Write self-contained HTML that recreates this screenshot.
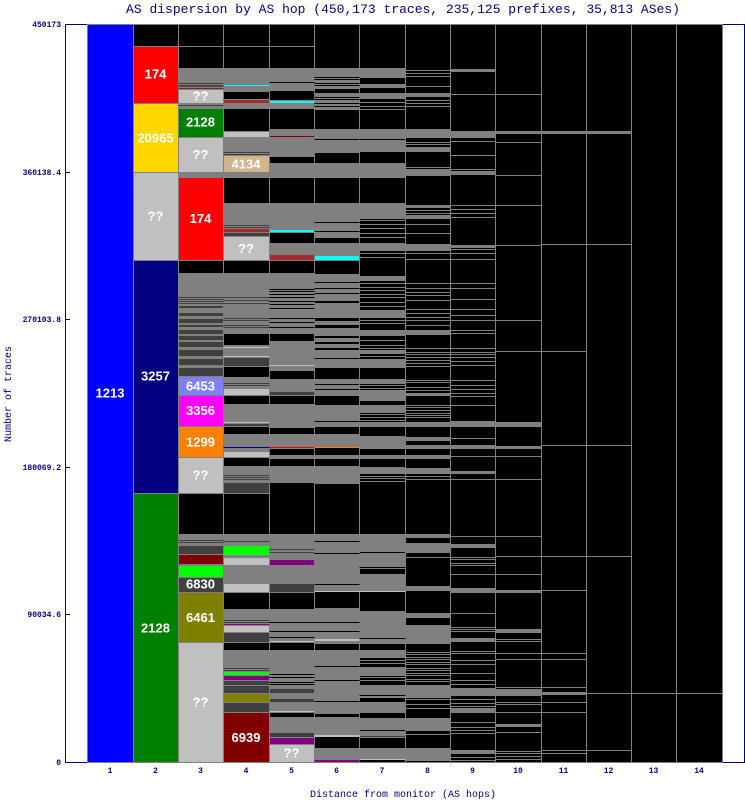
<!DOCTYPE html>
<html><head><meta charset="utf-8"><style>
html,body{margin:0;padding:0;background:#fff}
svg{display:block}
.s rect{stroke:#808080;stroke-width:1}
.t{font-family:"Liberation Sans",sans-serif;font-weight:bold;font-size:13px;fill:#fff;text-anchor:middle}
.a{font-family:"Liberation Mono",monospace;font-size:8px;font-weight:bold;fill:#000080}
</style></head><body>
<svg width="745" height="800" viewBox="0 0 745 800" xmlns="http://www.w3.org/2000/svg" shape-rendering="crispEdges">
<rect width="745" height="800" fill="#fff"/>
<text x="403" y="13" font-family="Liberation Mono, monospace" font-size="13" fill="#000080" text-anchor="middle">AS dispersion by AS hop (450,173 traces, 235,125 prefixes, 35,813 ASes)</text>
<path d="M65.5 24.5V762.5H744.5V24.5H65.5" fill="none" stroke="#000080"/>
<path d="M65 24.5h5M65 172.5h5M65 319.5h5M65 467.5h5M65 614.5h5M65 762.5h5" stroke="#000080"/>
<g class="a" text-anchor="end">
<text x="61" y="27">450173</text><text x="61" y="175">360138.4</text><text x="61" y="322">270103.8</text><text x="61" y="470">180069.2</text><text x="61" y="617">90034.6</text><text x="61" y="765">0</text>
</g>
<g class="a" text-anchor="middle">
<text x="110" y="773">1</text><text x="155.5" y="773">2</text><text x="200.5" y="773">3</text><text x="246" y="773">4</text><text x="291.5" y="773">5</text><text x="336.5" y="773">6</text><text x="382" y="773">7</text><text x="427.5" y="773">8</text><text x="472.5" y="773">9</text><text x="518" y="773">10</text><text x="563.5" y="773">11</text><text x="608.5" y="773">12</text><text x="653.5" y="773">13</text><text x="699" y="773">14</text>
</g>
<text x="403" y="797" font-family="Liberation Mono, monospace" font-size="10" fill="#000080" text-anchor="middle">Distance from monitor (AS hops)</text>
<text transform="translate(11,394) rotate(-90)" font-family="Liberation Mono, monospace" font-size="10" fill="#000080" text-anchor="middle">Number of traces</text>

<g transform="translate(0.5,0.5)">
<g class="s">
<rect x="87" y="24" width="46" height="738" fill="#0000ff"/>
<rect x="133" y="24" width="45" height="22" fill="#000"/>
<rect x="133" y="46" width="45" height="57" fill="#ff0000"/>
<rect x="133" y="103" width="45" height="69" fill="#ffd700"/>
<rect x="133" y="172" width="45" height="88" fill="#c0c0c0"/>
<rect x="133" y="260" width="45" height="233" fill="#000080"/>
<rect x="133" y="493" width="45" height="269" fill="#008000"/>
<rect x="178" y="24" width="45" height="22" fill="#000"/>
<rect x="178" y="46" width="45" height="22" fill="#000"/>
<rect x="178" y="68" width="45" height="21" fill="#808080"/>
<rect x="178" y="89" width="45" height="14" fill="#c0c0c0"/>
<rect x="178" y="103" width="45" height="5" fill="#808080"/>
<rect x="178" y="108" width="45" height="29" fill="#008000"/>
<rect x="178" y="137" width="45" height="35" fill="#c0c0c0"/>
<rect x="178" y="172" width="45" height="5" fill="#808080"/>
<rect x="178" y="177" width="45" height="83" fill="#ff0000"/>
<rect x="178" y="260" width="45" height="13" fill="#000"/>
<rect x="178" y="273" width="45" height="103" fill="#808080"/>
<rect x="178" y="305" width="45" height="3" fill="#404040"/>
<rect x="178" y="312" width="45" height="4" fill="#404040"/>
<rect x="178" y="318" width="45" height="5" fill="#404040"/>
<rect x="178" y="324" width="45" height="3" fill="#404040"/>
<rect x="178" y="329" width="45" height="5" fill="#404040"/>
<rect x="178" y="335" width="45" height="5" fill="#404040"/>
<rect x="178" y="341" width="45" height="6" fill="#404040"/>
<rect x="178" y="349" width="45" height="7" fill="#404040"/>
<rect x="178" y="358" width="45" height="7" fill="#404040"/>
<rect x="178" y="367" width="45" height="9" fill="#404040"/>
<rect x="178" y="376" width="45" height="19" fill="#8080ff"/>
<rect x="178" y="395" width="45" height="31" fill="#ff00ff"/>
<rect x="178" y="426" width="45" height="31" fill="#ff8000"/>
<rect x="178" y="457" width="45" height="36" fill="#c0c0c0"/>
<rect x="178" y="493" width="45" height="41" fill="#000"/>
<rect x="178" y="534" width="45" height="11" fill="#808080"/>
<rect x="178" y="545" width="45" height="9" fill="#404040"/>
<rect x="178" y="554" width="45" height="10" fill="#800000"/>
<rect x="178" y="565" width="45" height="12" fill="#00ff00"/>
<rect x="178" y="577" width="45" height="15" fill="#404040"/>
<rect x="178" y="592" width="45" height="50" fill="#808000"/>
<rect x="178" y="642" width="45" height="120" fill="#c0c0c0"/>
<rect x="223" y="24" width="46" height="22" fill="#000"/>
<rect x="223" y="46" width="46" height="22" fill="#000"/>
<rect x="223" y="68" width="46" height="23" fill="#808080"/>
<rect x="223" y="91" width="46" height="8" fill="#000"/>
<rect x="223" y="99" width="46" height="4" fill="#a52a2a"/>
<rect x="223" y="103" width="46" height="5" fill="#808080"/>
<rect x="223" y="108" width="46" height="23" fill="#000"/>
<rect x="223" y="131" width="46" height="6" fill="#c0c0c0"/>
<rect x="223" y="137" width="46" height="18" fill="#808080"/>
<rect x="223" y="155" width="46" height="17" fill="#d2b48c"/>
<rect x="223" y="172" width="46" height="5" fill="#808080"/>
<rect x="223" y="177" width="46" height="26" fill="#000"/>
<rect x="223" y="203" width="46" height="25" fill="#808080"/>
<rect x="223" y="228" width="46" height="4" fill="#a52a2a"/>
<rect x="223" y="232" width="46" height="4" fill="#404040"/>
<rect x="223" y="236" width="46" height="24" fill="#c0c0c0"/>
<rect x="223" y="260" width="46" height="13" fill="#000"/>
<rect x="223" y="273" width="46" height="60" fill="#808080"/>
<rect x="223" y="333" width="46" height="12" fill="#000"/>
<rect x="223" y="345" width="46" height="12" fill="#808080"/>
<rect x="223" y="357" width="46" height="9" fill="#404040"/>
<rect x="223" y="366" width="46" height="11" fill="#000"/>
<rect x="223" y="377" width="46" height="11" fill="#808080"/>
<rect x="223" y="388" width="46" height="7" fill="#c0c0c0"/>
<rect x="223" y="395" width="46" height="9" fill="#000"/>
<rect x="223" y="404" width="46" height="17" fill="#808080"/>
<rect x="223" y="421" width="46" height="2" fill="#c0c0c0"/>
<rect x="223" y="423" width="46" height="3" fill="#404040"/>
<rect x="223" y="426" width="46" height="8" fill="#000"/>
<rect x="223" y="434" width="46" height="17" fill="#808080"/>
<rect x="223" y="451" width="46" height="6" fill="#c0c0c0"/>
<rect x="223" y="457" width="46" height="9" fill="#000"/>
<rect x="223" y="466" width="46" height="16" fill="#808080"/>
<rect x="223" y="482" width="46" height="11" fill="#404040"/>
<rect x="223" y="493" width="46" height="41" fill="#000"/>
<rect x="223" y="534" width="46" height="11" fill="#808080"/>
<rect x="223" y="545" width="46" height="10" fill="#00ff00"/>
<rect x="223" y="555" width="46" height="2" fill="#808080"/>
<rect x="223" y="557" width="46" height="8" fill="#c0c0c0"/>
<rect x="223" y="565" width="46" height="18" fill="#808080"/>
<rect x="223" y="583" width="46" height="9" fill="#c0c0c0"/>
<rect x="223" y="592" width="46" height="17" fill="#000"/>
<rect x="223" y="609" width="46" height="16" fill="#808080"/>
<rect x="223" y="625" width="46" height="7" fill="#c0c0c0"/>
<rect x="223" y="632" width="46" height="10" fill="#404040"/>
<rect x="223" y="642" width="46" height="8" fill="#000"/>
<rect x="223" y="650" width="46" height="21" fill="#808080"/>
<rect x="223" y="671" width="46" height="4" fill="#00ff00"/>
<rect x="223" y="675" width="46" height="5" fill="#800080"/>
<rect x="223" y="680" width="46" height="5" fill="#404040"/>
<rect x="223" y="685" width="46" height="8" fill="#404040"/>
<rect x="223" y="693" width="46" height="9" fill="#808000"/>
<rect x="223" y="702" width="46" height="10" fill="#404040"/>
<rect x="223" y="712" width="46" height="50" fill="#800000"/>
<rect x="269" y="24" width="45" height="22" fill="#000"/>
<rect x="269" y="46" width="45" height="22" fill="#000"/>
<rect x="269" y="68" width="45" height="22" fill="#808080"/>
<rect x="269" y="90" width="45" height="10" fill="#000"/>
<rect x="269" y="100" width="45" height="3" fill="#00ffff"/>
<rect x="269" y="103" width="45" height="5" fill="#808080"/>
<rect x="269" y="108" width="45" height="21" fill="#000"/>
<rect x="269" y="129" width="45" height="6" fill="#808080"/>
<rect x="269" y="135" width="45" height="2" fill="#800000"/>
<rect x="269" y="137" width="45" height="19" fill="#808080"/>
<rect x="269" y="156" width="45" height="7" fill="#000"/>
<rect x="269" y="163" width="45" height="9" fill="#808080"/>
<rect x="269" y="172" width="45" height="5" fill="#808080"/>
<rect x="269" y="177" width="45" height="26" fill="#000"/>
<rect x="269" y="203" width="45" height="26" fill="#808080"/>
<rect x="269" y="229" width="45" height="3" fill="#00ffff"/>
<rect x="269" y="232" width="45" height="11" fill="#000"/>
<rect x="269" y="243" width="45" height="11" fill="#808080"/>
<rect x="269" y="254" width="45" height="6" fill="#a52a2a"/>
<rect x="269" y="260" width="45" height="13" fill="#000"/>
<rect x="269" y="273" width="45" height="60" fill="#808080"/>
<rect x="269" y="333" width="45" height="8" fill="#000"/>
<rect x="269" y="341" width="45" height="29" fill="#808080"/>
<rect x="269" y="370" width="45" height="9" fill="#000"/>
<rect x="269" y="379" width="45" height="12" fill="#808080"/>
<rect x="269" y="391" width="45" height="4" fill="#404040"/>
<rect x="269" y="395" width="45" height="9" fill="#000"/>
<rect x="269" y="404" width="45" height="23" fill="#808080"/>
<rect x="269" y="427" width="45" height="7" fill="#000"/>
<rect x="269" y="434" width="45" height="13" fill="#808080"/>
<rect x="269" y="448" width="45" height="7" fill="#000"/>
<rect x="269" y="455" width="45" height="3" fill="#808080"/>
<rect x="269" y="458" width="45" height="8" fill="#000"/>
<rect x="269" y="466" width="45" height="16" fill="#808080"/>
<rect x="269" y="482" width="45" height="52" fill="#000"/>
<rect x="269" y="534" width="45" height="25" fill="#808080"/>
<rect x="269" y="559" width="45" height="6" fill="#800080"/>
<rect x="269" y="565" width="45" height="18" fill="#808080"/>
<rect x="269" y="583" width="45" height="9" fill="#404040"/>
<rect x="269" y="592" width="45" height="17" fill="#000"/>
<rect x="269" y="609" width="45" height="31" fill="#808080"/>
<rect x="269" y="640" width="45" height="2" fill="#c0c0c0"/>
<rect x="269" y="642" width="45" height="8" fill="#000"/>
<rect x="269" y="650" width="45" height="38" fill="#808080"/>
<rect x="269" y="688" width="45" height="5" fill="#404040"/>
<rect x="269" y="693" width="45" height="5" fill="#808080"/>
<rect x="269" y="698" width="45" height="4" fill="#404040"/>
<rect x="269" y="702" width="45" height="8" fill="#808080"/>
<rect x="269" y="710" width="45" height="2" fill="#c0c0c0"/>
<rect x="269" y="712" width="45" height="5" fill="#000"/>
<rect x="269" y="717" width="45" height="15" fill="#808080"/>
<rect x="269" y="732" width="45" height="5" fill="#404040"/>
<rect x="269" y="737" width="45" height="7" fill="#800080"/>
<rect x="269" y="744" width="45" height="18" fill="#c0c0c0"/>
<rect x="314" y="24" width="45" height="738" fill="#000"/>
<rect x="359" y="24" width="46" height="738" fill="#000"/>
<rect x="405" y="24" width="45" height="738" fill="#000"/>
<rect x="450" y="24" width="45" height="738" fill="#000"/>
<rect x="495" y="24" width="46" height="738" fill="#000"/>
<rect x="541" y="24" width="45" height="738" fill="#000"/>
<rect x="586" y="24" width="45" height="738" fill="#000"/>
<rect x="631" y="24" width="45" height="738" fill="#000"/>
<rect x="676" y="24" width="46" height="738" fill="#000"/>
<rect x="314" y="68" width="45" height="20" fill="#808080"/>
<rect x="314" y="93" width="45" height="16" fill="#808080"/>
<rect x="314" y="129" width="45" height="23" fill="#808080"/>
<rect x="314" y="163" width="45" height="14" fill="#808080"/>
<rect x="314" y="203" width="45" height="34" fill="#808080"/>
<rect x="314" y="243" width="45" height="12" fill="#808080"/>
<rect x="314" y="255" width="45" height="5" fill="#00ffff"/>
<rect x="314" y="274" width="45" height="26" fill="#808080"/>
<rect x="314" y="303" width="45" height="3" fill="#808080"/>
<rect x="314" y="307" width="45" height="10" fill="#808080"/>
<rect x="314" y="321" width="45" height="3" fill="#808080"/>
<rect x="314" y="328" width="45" height="7" fill="#808080"/>
<rect x="314" y="338" width="45" height="3" fill="#808080"/>
<rect x="314" y="344" width="45" height="3" fill="#808080"/>
<rect x="314" y="350" width="45" height="17" fill="#808080"/>
<rect x="314" y="379" width="45" height="4" fill="#808080"/>
<rect x="314" y="385" width="45" height="3" fill="#808080"/>
<rect x="314" y="390" width="45" height="5" fill="#808080"/>
<rect x="314" y="405" width="45" height="21" fill="#808080"/>
<rect x="314" y="434" width="45" height="13" fill="#808080"/>
<rect x="314" y="455" width="45" height="3" fill="#808080"/>
<rect x="314" y="466" width="45" height="17" fill="#808080"/>
<rect x="314" y="534" width="45" height="57" fill="#808080"/>
<rect x="314" y="608" width="45" height="35" fill="#808080"/>
<rect x="314" y="650" width="45" height="85" fill="#808080"/>
<rect x="314" y="713" width="45" height="4" fill="#000"/>
<rect x="314" y="748" width="45" height="12" fill="#808080"/>
<rect x="359" y="68" width="46" height="9" fill="#808080"/>
<rect x="359" y="84" width="46" height="3" fill="#808080"/>
<rect x="359" y="93" width="46" height="5" fill="#808080"/>
<rect x="359" y="129" width="46" height="9" fill="#808080"/>
<rect x="359" y="140" width="46" height="11" fill="#808080"/>
<rect x="359" y="163" width="46" height="14" fill="#808080"/>
<rect x="359" y="203" width="46" height="5" fill="#808080"/>
<rect x="359" y="209" width="46" height="9" fill="#808080"/>
<rect x="359" y="243" width="46" height="7" fill="#808080"/>
<rect x="359" y="276" width="46" height="4" fill="#808080"/>
<rect x="359" y="310" width="46" height="7" fill="#808080"/>
<rect x="359" y="330" width="46" height="5" fill="#808080"/>
<rect x="359" y="350" width="46" height="3" fill="#808080"/>
<rect x="359" y="359" width="46" height="8" fill="#808080"/>
<rect x="359" y="379" width="46" height="4" fill="#808080"/>
<rect x="359" y="390" width="46" height="10" fill="#808080"/>
<rect x="359" y="405" width="46" height="7" fill="#808080"/>
<rect x="359" y="422" width="46" height="4" fill="#808080"/>
<rect x="359" y="436" width="46" height="12" fill="#808080"/>
<rect x="359" y="455" width="46" height="3" fill="#808080"/>
<rect x="359" y="467" width="46" height="6" fill="#808080"/>
<rect x="359" y="534" width="46" height="8" fill="#808080"/>
<rect x="359" y="543" width="46" height="8" fill="#808080"/>
<rect x="359" y="553" width="46" height="15" fill="#808080"/>
<rect x="359" y="574" width="46" height="16" fill="#808080"/>
<rect x="359" y="611" width="46" height="32" fill="#808080"/>
<rect x="359" y="650" width="46" height="7" fill="#808080"/>
<rect x="359" y="667" width="46" height="8" fill="#808080"/>
<rect x="359" y="685" width="46" height="12" fill="#808080"/>
<rect x="359" y="702" width="46" height="10" fill="#808080"/>
<rect x="359" y="718" width="46" height="10" fill="#808080"/>
<rect x="359" y="731" width="46" height="4" fill="#808080"/>
<rect x="359" y="735" width="46" height="2" fill="#404040"/>
<rect x="359" y="748" width="46" height="10" fill="#808080"/>
<rect x="405" y="93" width="45" height="3" fill="#808080"/>
<rect x="405" y="129" width="45" height="8" fill="#808080"/>
<rect x="405" y="147" width="45" height="4" fill="#808080"/>
<rect x="405" y="169" width="45" height="6" fill="#808080"/>
<rect x="405" y="205" width="45" height="2" fill="#808080"/>
<rect x="405" y="216" width="45" height="2" fill="#808080"/>
<rect x="405" y="244" width="45" height="6" fill="#808080"/>
<rect x="405" y="330" width="45" height="4" fill="#808080"/>
<rect x="405" y="393" width="45" height="2" fill="#808080"/>
<rect x="405" y="422" width="45" height="4" fill="#808080"/>
<rect x="405" y="437" width="45" height="3" fill="#808080"/>
<rect x="405" y="445" width="45" height="3" fill="#808080"/>
<rect x="405" y="455" width="45" height="3" fill="#808080"/>
<rect x="405" y="468" width="45" height="5" fill="#808080"/>
<rect x="405" y="534" width="45" height="3" fill="#808080"/>
<rect x="405" y="543" width="45" height="8" fill="#808080"/>
<rect x="405" y="586" width="45" height="4" fill="#808080"/>
<rect x="405" y="613" width="45" height="4" fill="#808080"/>
<rect x="405" y="625" width="45" height="18" fill="#808080"/>
<rect x="405" y="685" width="45" height="12" fill="#808080"/>
<rect x="405" y="718" width="45" height="12" fill="#808080"/>
<rect x="405" y="748" width="45" height="12" fill="#808080"/>
<rect x="450" y="69" width="45" height="2" fill="#808080"/>
<rect x="450" y="131" width="45" height="6" fill="#808080"/>
<rect x="450" y="171" width="45" height="3" fill="#808080"/>
<rect x="450" y="245" width="45" height="2" fill="#808080"/>
<rect x="450" y="421" width="45" height="5" fill="#808080"/>
<rect x="450" y="445" width="45" height="3" fill="#808080"/>
<rect x="450" y="471" width="45" height="2" fill="#808080"/>
<rect x="450" y="544" width="45" height="3" fill="#808080"/>
<rect x="450" y="588" width="45" height="4" fill="#808080"/>
<rect x="450" y="638" width="45" height="3" fill="#808080"/>
<rect x="450" y="688" width="45" height="7" fill="#808080"/>
<rect x="450" y="708" width="45" height="4" fill="#808080"/>
<rect x="450" y="750" width="45" height="3" fill="#808080"/>
<rect x="495" y="131" width="46" height="2" fill="#808080"/>
<rect x="495" y="423" width="46" height="3" fill="#808080"/>
<rect x="495" y="446" width="46" height="2" fill="#808080"/>
<rect x="495" y="590" width="46" height="2" fill="#808080"/>
<rect x="495" y="629" width="46" height="3" fill="#808080"/>
<rect x="495" y="689" width="46" height="6" fill="#808080"/>
<rect x="495" y="724" width="46" height="2" fill="#808080"/>
<rect x="541" y="131" width="45" height="2" fill="#808080"/>
<rect x="541" y="692" width="45" height="2" fill="#808080"/>
<rect x="586" y="131" width="45" height="2" fill="#808080"/>
</g>
<path stroke="#808080" fill="none" d="
M359 98h46M359 102h46M359 106h46M359 109h46M359 220h46M359 224h46M359 228h46M359 233h46M359 237h46M359 253h46M359 257h46M359 283h46M359 287h46M359 290h46M359 294h46M359 297h46M359 302h46M359 306h46M359 320h46M359 323h46M359 340h46M359 345h46M359 348h46M359 356h46M359 385h46M359 388h46M359 414h46M359 417h46M359 420h46M359 476h46M359 478h46M359 481h46M359 660h46M359 663h46M359 677h46M359 680h46M359 729h46
M405 70h45M405 73h45M405 76h45M405 86h45M405 100h45M405 103h45M405 106h45M405 142h45M405 144h45M405 167h45M405 210h45M405 213h45M405 215h45M405 224h45M405 233h45M405 253h45M405 259h45M405 283h45M405 288h45M405 292h45M405 295h45M405 300h45M405 309h45M405 313h45M405 317h45M405 320h45M405 325h45M405 348h45M405 352h45M405 354h45M405 357h45M405 360h45M405 363h45M405 366h45M405 380h45M405 382h45M405 387h45M405 390h45M405 405h45M405 407h45M405 410h45M405 413h45M405 415h45M405 417h45M405 476h45M405 479h45M405 552h45M405 557h45M405 652h45M405 654h45M405 657h45M405 659h45M405 662h45M405 664h45M405 668h45M405 670h45M405 673h45M405 675h45M405 679h45M405 681h45M405 699h45M405 704h45M405 708h45M405 734h45
M450 94h45M450 141h45M450 155h45M450 169h45M450 205h45M450 209h45M450 213h45M450 217h45M450 249h45M450 253h45M450 259h45M450 283h45M450 288h45M450 299h45M450 309h45M450 315h45M450 320h45M450 330h45M450 333h45M450 348h45M450 352h45M450 354h45M450 357h45M450 361h45M450 365h45M450 380h45M450 385h45M450 389h45M450 393h45M450 396h45M450 405h45M450 438h45M450 456h45M450 479h45M450 536h45M450 557h45M450 559h45M450 563h45M450 565h45M450 574h45M450 613h45M450 627h45M450 629h45M450 631h45M450 651h45M450 653h45M450 660h45M450 664h45M450 673h45M450 680h45M450 684h45M450 699h45M450 703h45M450 706h45M450 722h45M450 727h45M450 730h45M450 733h45M450 757h45M450 760h45
M495 94h46M495 142h46M495 175h46M495 205h46M495 245h46M495 320h46M495 351h46M495 422h46M495 456h46M495 479h46M495 536h46M495 556h46M495 574h46M495 639h46M495 641h46M495 653h46M495 659h46M495 687h46M495 702h46M495 704h46M495 712h46M495 732h46M495 751h46M495 753h46M495 756h46M495 759h46
M541 244h45M541 351h45M541 445h45M541 556h45M541 590h45M541 653h45M541 659h45M541 687h45M541 702h45M541 712h45M541 750h45M541 753h45
M586 244h45M586 445h45M586 556h45M586 693h45M586 750h45
M631 693h45M676 693h46"/>
<path stroke="#000" fill="none" d="
M269 82h45M269 289h45M269 291h45M269 294h45M269 297h45M269 301h45M269 304h45M269 308h45M269 318h45M269 322h45M269 327h45M269 451h45M269 622h45M269 631h45M269 637h45M269 674h45M269 677h45M269 682h45M269 684h45
M314 77h45M314 79h45M314 83h45M314 85h45M314 97h45M314 99h45M314 103h45M314 106h45M314 139h45M314 222h45M314 231h45M314 282h45M314 288h45M314 293h45M314 358h45M314 421h45M314 541h45M314 553h45M314 584h45M314 622h45M314 631h45M314 666h45M314 680h45M314 701h45
M359 567h46M359 638h46M359 695h46"/>
<path stroke="#404040" fill="none" d="M178 83h45M178 85h45M178 88h45M178 105h45M178 297h45M178 299h45M178 301h45M178 303h45M178 540h45M178 542h45
M223 152h46M223 154h46M223 225h46M223 227h46M223 297h46M223 300h46M223 303h46M223 318h46M223 320h46M223 325h46M223 327h46M223 383h46M223 385h46M223 475h46M223 477h46M223 479h46M223 541h46M223 620h46M223 622h46M223 668h46M223 670h46
M269 549h45M269 552h45"/>
<path stroke="#a52a2a" d="M178 86h45"/>
<path stroke="#00ffff" d="M223 85h46"/>
<path stroke="#c0c0c0" d="M223 347h46M223 356h46M269 365h45M314 591h45M314 639h45M314 640h45M314 735h45M314 736h45M359 591h46M359 759h46"/>
<path stroke="#000080" d="M223 447h46"/>
<path stroke="#800080" d="M223 624h46M314 760h45M314 761h45"/>
<path stroke="#ff0000" d="M269 447h45"/>
<path stroke="#ff8000" d="M314 447h45"/>
</g>

<g class="t">
<text x="110" y="397.5">1213</text>
<text x="155.5" y="78.5">174</text>
<text x="155.5" y="142.5">20965</text>
<text x="155.5" y="220.5">??</text>
<text x="155.5" y="380.5">3257</text>
<text x="155.5" y="632.5">2128</text>
<text x="200.5" y="100.5">??</text>
<text x="200.5" y="126.5">2128</text>
<text x="200.5" y="159">??</text>
<text x="200.5" y="223">174</text>
<text x="200.5" y="390.5">6453</text>
<text x="200.5" y="415">3356</text>
<text x="200.5" y="446.5">1299</text>
<text x="200.5" y="479.5">??</text>
<text x="200.5" y="588.5">6830</text>
<text x="200.5" y="622">6461</text>
<text x="200.5" y="706.5">??</text>
<text x="246" y="168.5">4134</text>
<text x="246" y="253">??</text>
<text x="246" y="742">6939</text>
<text x="291.5" y="757.5">??</text>
</g>
</svg>
</body></html>
